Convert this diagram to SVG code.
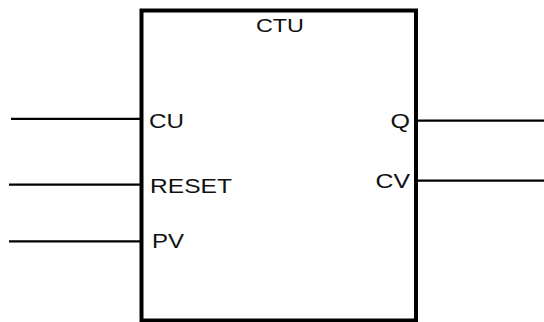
<svg xmlns="http://www.w3.org/2000/svg" width="544" height="322" viewBox="0 0 544 322">
<style>
.box{fill:#fff;stroke:#000;stroke-width:4}
.wire{stroke:#000;stroke-width:2.2;fill:none}
.lbl{font-family:"Liberation Sans",Arial,sans-serif;font-size:21px;fill:#111}
.ttl{font-family:"Liberation Sans",Arial,sans-serif;font-size:18.5px;fill:#111}
</style>
<rect width="544" height="322" fill="#fff"/>
<g id="connectors">
<line class="wire" x1="11" y1="118.8" x2="140" y2="118.8"/>
<line class="wire" x1="9" y1="184.7" x2="140" y2="184.7"/>
<line class="wire" x1="9" y1="241.3" x2="140" y2="241.3"/>
<line class="wire" x1="418" y1="120.7" x2="544" y2="120.7"/>
<line class="wire" x1="418" y1="180.7" x2="544" y2="180.7"/>
</g>
<g id="ctu">
<rect class="box" x="141.5" y="10.5" width="274.5" height="310"/>
<text class="ttl" x="256" y="31.5" textLength="48" lengthAdjust="spacingAndGlyphs">CTU</text>
<text class="lbl" x="149" y="127.5" textLength="35" lengthAdjust="spacingAndGlyphs">CU</text>
<text class="lbl" x="150" y="192.5" textLength="82" lengthAdjust="spacingAndGlyphs">RESET</text>
<text class="lbl" x="152" y="247.7" textLength="32" lengthAdjust="spacingAndGlyphs">PV</text>
<text class="lbl" x="390.5" y="127.5" textLength="19.5" lengthAdjust="spacingAndGlyphs">Q</text>
<text class="lbl" x="375.5" y="188.3" textLength="34.5" lengthAdjust="spacingAndGlyphs">CV</text>
</g>
</svg>
